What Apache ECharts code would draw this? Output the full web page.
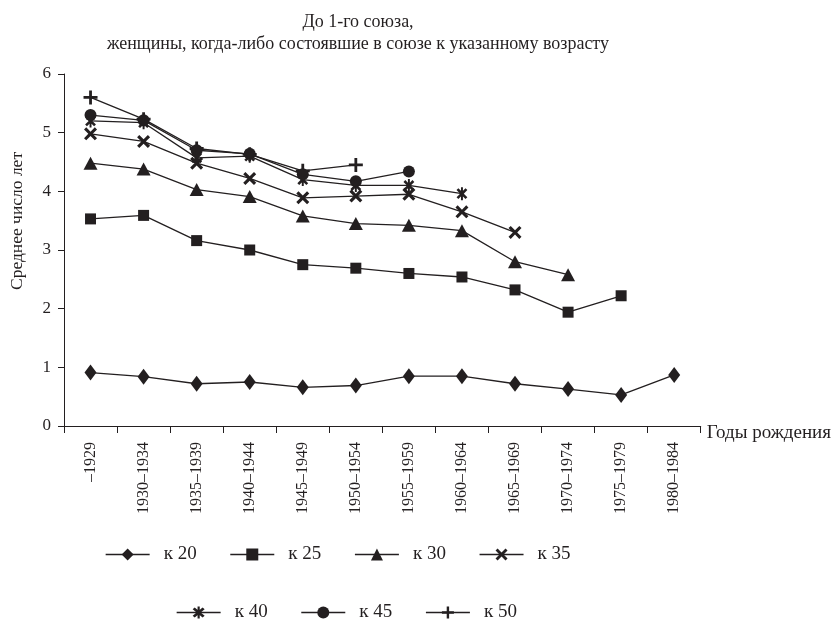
<!DOCTYPE html>
<html>
<head>
<meta charset="utf-8">
<script src="https://cdn.jsdelivr.net/npm/echarts@6/dist/echarts.min.js"></script>
<style>html,body{margin:0;padding:0;background:#fff}#c{width:834px;height:621px}</style>
</head>
<body>
<div id="c"></div>
<script>
var categories = ['\u20131929','1930\u20131934','1935\u20131939','1940\u20131944','1945\u20131949','1950\u20131954','1955\u20131959','1960\u20131964','1965\u20131969','1970\u20131974','1975\u20131979','1980\u20131984'];
var yTicks = [0,1,2,3,4,5,6];
var k20 = [0.91,0.84,0.72,0.75,0.66,0.69,0.85,0.85,0.72,0.63,0.53,0.87];
var k25 = [3.53,3.59,3.16,3.00,2.75,2.69,2.60,2.54,2.32,1.94,2.22];
var k30 = [4.48,4.38,4.03,3.91,3.58,3.45,3.42,3.33,2.80,2.58];
var k35 = [4.98,4.85,4.48,4.22,3.89,3.92,3.95,3.65,3.30];
var k40 = [5.20,5.17,4.57,4.60,4.20,4.10,4.10,3.96];
var k45 = [5.30,5.21,4.70,4.64,4.29,4.17,4.34];
var k50 = [5.60,5.23,4.73,4.63,4.35,4.45];
var seriesNames = ['\u043a 20','\u043a 25','\u043a 30','\u043a 35','\u043a 40','\u043a 45','\u043a 50'];

var INK = '#231f20';
var FONT = 'Liberation Serif';
var xPath = 'path://M0,1.7L1.7,0L5,3.3L8.3,0L10,1.7L6.7,5L10,8.3L8.3,10L5,6.7L1.7,10L0,8.3L3.3,5Z';
var plusPath = 'path://M4,0H6V4H10V6H6V10H4V6H0V4H4Z';
var starPath = 'path://M0,1.7L1.7,0L5,3.3L8.3,0L10,1.7L6.7,5L10,8.3L8.3,10L5,6.7L1.7,10L0,8.3L3.3,5Z M4.1,-1H5.9V11H4.1Z';

var symbols = [
  {s:'diamond', size:[12,16]},
  {s:'rect', size:11},
  {s:'triangle', size:[14,13]},
  {s:xPath, size:13},
  {s:starPath, size:13},
  {s:'circle', size:12},
  {s:plusPath, size:14}
];
var datas = [k20,k25,k30,k35,k40,k45,k50];

var series = datas.map(function(d,i){
  return {
    name: seriesNames[i],
    type: 'line',
    data: d,
    symbol: symbols[i].s,
    symbolSize: symbols[i].size,
    symbolKeepAspect: true,
    showAllSymbol: true,
    lineStyle: {color: INK, width: 1.3},
    itemStyle: {color: INK},
    emphasis: {disabled: true},
    z: 10 - i
  };
});

var legendCommon = {
  itemWidth: 44, itemHeight: 15, itemGap: 33, padding: 0,
  lineStyle: {width: 1.3, color: INK},
  textStyle: {fontFamily: FONT, fontSize: 19, color: INK, padding: [0,0,0,9]},
  selectedMode: false
};

var chart = echarts.init(document.getElementById('c'), null, {renderer: 'canvas'});
chart.setOption({
  animation: false,
  backgroundColor: '#fff',
  title: {
    text: '\u0414\u043e 1-\u0433\u043e \u0441\u043e\u044e\u0437\u0430,\n\u0436\u0435\u043d\u0449\u0438\u043d\u044b, \u043a\u043e\u0433\u0434\u0430-\u043b\u0438\u0431\u043e \u0441\u043e\u0441\u0442\u043e\u044f\u0432\u0448\u0438\u0435 \u0432 \u0441\u043e\u044e\u0437\u0435 \u043a \u0443\u043a\u0430\u0437\u0430\u043d\u043d\u043e\u043c\u0443 \u0432\u043e\u0437\u0440\u0430\u0441\u0442\u0443',
    left: 353, top: 6, textAlign: 'center',
    textStyle: {fontFamily: FONT, fontSize: 18, fontWeight: 'normal', color: INK, lineHeight: 22}
  },
  legend: [
    Object.assign({}, legendCommon, {data: seriesNames.slice(0,4), left: 105, top: 545}),
    Object.assign({}, legendCommon, {data: seriesNames.slice(4), left: 176, top: 603})
  ],
  grid: {left: 63, right: 133, top: 74, bottom: 195},
  xAxis: {
    type: 'category',
    data: categories,
    boundaryGap: true,
    name: '\u0413\u043e\u0434\u044b \u0440\u043e\u0436\u0434\u0435\u043d\u0438\u044f',
    nameLocation: 'end',
    nameGap: 6,
    nameTextStyle: {fontFamily: FONT, fontSize: 19, color: INK, verticalAlign: 'top', lineHeight: 14},
    axisLine: {lineStyle: {color: INK, width: 1}},
    axisTick: {show: true, length: 7, lineStyle: {color: INK}},
    axisLabel: {rotate: 90, interval: 0, fontFamily: FONT, fontSize: 16, color: INK, margin: 16},
    splitLine: {show: false}
  },
  yAxis: {
    type: 'value',
    min: yTicks[0], max: yTicks[yTicks.length-1], interval: 1,
    name: '\u0421\u0440\u0435\u0434\u043d\u0435\u0435 \u0447\u0438\u0441\u043b\u043e \u043b\u0435\u0442',
    nameLocation: 'middle',
    nameGap: 38,
    nameRotate: 90,
    nameTextStyle: {fontFamily: FONT, fontSize: 17.5, color: INK, padding: [0,0,0,58]},
    axisLine: {show: true, lineStyle: {color: INK, width: 1}},
    axisTick: {show: true, length: 6, lineStyle: {color: INK}},
    axisLabel: {fontFamily: FONT, fontSize: 17, color: INK, margin: 13},
    splitLine: {show: false}
  },
  series: series
});
</script>
</body>
</html>
